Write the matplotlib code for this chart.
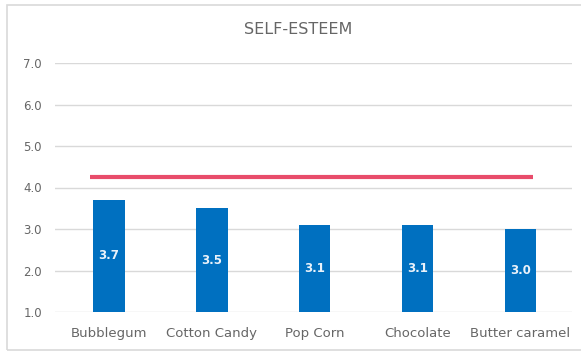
import matplotlib
matplotlib.use("Agg")
import matplotlib.pyplot as plt
from matplotlib.patches import Rectangle

categories = ["Bubblegum", "Cotton Candy", "Pop Corn", "Chocolate", "Butter caramel"]
scores = [3.7, 3.5, 3.1, 3.1, 3.0]
score_labels = ["3.7", "3.5", "3.1", "3.1", "3.0"]
target = 4.25
y_ticks = [1.0, 2.0, 3.0, 4.0, 5.0, 6.0, 7.0]
title = "SELF-ESTEEM"

plt.rcParams["font.family"] = ["DejaVu Sans"]
text_grey = "#666666"

fig = plt.figure(figsize=(5.81, 3.53), dpi=100)
fig.patch.set_facecolor("white")

# light frame around the chart area (runs off the right edge)
fig.patches.append(Rectangle((7 / 581, 3 / 353), 620 / 581, 345 / 353,
                             transform=fig.transFigure, fill=False,
                             edgecolor="#D9D9D9", linewidth=1.2))

ax = fig.add_axes([55 / 581, 1 - 312 / 353, 517 / 581, (312 - 63) / 353])
base = y_ticks[0]
x = range(len(categories))
bars = ax.bar(x, [v - base for v in scores], bottom=base, width=0.31,
              color="#0070C0", zorder=3)

for xi, v, lab in zip(x, scores, score_labels):
    ax.text(xi, (v + base) / 2, lab, ha="center", va="center",
            color="#EAF2FA", fontsize=8.5, fontweight="bold", zorder=4)

ax.hlines(target, -0.18, 4.12, color="#E84C6B", linewidth=3, zorder=4)

ax.set_xlim(-0.52, 4.5)
ax.set_ylim(y_ticks[0], y_ticks[-1])
ax.set_yticks(y_ticks)
ax.set_yticklabels([f"{t:.1f}" for t in y_ticks])
ax.set_xticks(list(x))
ax.set_xticklabels(categories)
ax.grid(axis="y", color="#D9D9D9", linewidth=1, zorder=0)
ax.tick_params(axis="both", length=0, colors=text_grey)
ax.tick_params(axis="y", pad=9.4, labelsize=8.5)
ax.tick_params(axis="x", pad=11, labelsize=9.5)
for s in ax.spines.values():
    s.set_visible(False)

fig.text(298 / 581, 1 - 30 / 353, title, ha="center", va="center",
         color=text_grey, fontsize=11.5)

fig.savefig("out.png", dpi=100)
